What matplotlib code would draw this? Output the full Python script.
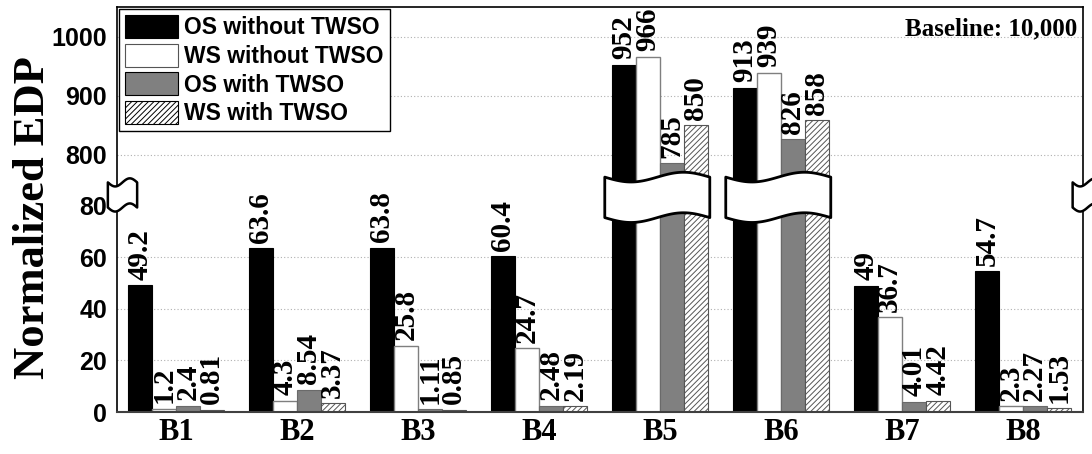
import numpy as np
import matplotlib
matplotlib.use("Agg")
import matplotlib.pyplot as plt
from matplotlib.patches import Polygon, Patch
from matplotlib.transforms import blended_transform_factory

# ---- data -------------------------------------------------------------
benchmarks = ["B1", "B2", "B3", "B4", "B5", "B6", "B7", "B8"]
series_names = ["OS without TWSO", "WS without TWSO", "OS with TWSO", "WS with TWSO"]
os_without = [49.2, 63.6, 63.8, 60.4, 952, 913, 49, 54.7]
ws_without = [1.2, 4.3, 25.8, 24.7, 966, 939, 36.7, 2.3]
os_with = [2.4, 8.54, 1.11, 2.48, 785, 826, 4.01, 2.27]
ws_with = [0.81, 3.37, 0.85, 2.19, 850, 858, 4.42, 1.53]
label_text = [
    ["49.2", "63.6", "63.8", "60.4", "952", "913", "49", "54.7"],
    ["1.2", "4.3", "25.8", "24.7", "966", "939", "36.7", "2.3"],
    ["2.4", "8.54", "1.11", "2.48", "785", "826", "4.01", "2.27"],
    ["0.81", "3.37", "0.85", "2.19", "850", "858", "4.42", "1.53"],
]
yticks = [0, 20, 40, 60, 80, 800, 900, 1000]
grid_values = [20, 40, 60, 800, 900, 1000]

# ---- broken y scale: 0..LOW_END drawn below, UP_START..top drawn above --
LOW_END, UP_START = 84.3, 732.0
K_LOW, K_UP = 2.575, 0.59
BREAK_PX = LOW_END * K_LOW


def fwd(v):
    v = np.asarray(v, dtype=float)
    return np.where(v <= LOW_END, v * K_LOW,
                    np.where(v >= UP_START, BREAK_PX + (v - UP_START) * K_UP, BREAK_PX))


def inv(p):
    p = np.asarray(p, dtype=float)
    return np.where(p <= BREAK_PX, p / K_LOW, UP_START + (p - BREAK_PX) / K_UP)


SERIF = "Liberation Serif"
SANS = "Liberation Sans"
plt.rcParams["hatch.linewidth"] = 0.7

fig = plt.figure(figsize=(10.92, 4.54), dpi=100)
ax = fig.add_axes([0.107, 0.0925, 0.885, 0.892])
ax.set_yscale("function", functions=(fwd, inv))

x = np.arange(len(benchmarks))
w = 0.198
offsets = np.array([-1.5, -0.5, 0.5, 1.5]) * w
styles = [
    dict(color="black", edgecolor="black", linewidth=0.8),
    dict(color="white", edgecolor="#7f7f7f", linewidth=1.0),
    dict(color="#808080", edgecolor="#6a6a6a", linewidth=0.8),
    dict(color="white", edgecolor="#555555", linewidth=0.8, hatch="//////"),
]
all_vals = [os_without, ws_without, os_with, ws_with]

for k, (vals, st) in enumerate(zip(all_vals, styles)):
    ax.bar(x + offsets[k], vals, w, zorder=2, **st)
    for xi, v, t in zip(x + offsets[k], vals, label_text[k]):
        ax.annotate(t, (xi, v), xytext=(0, 4), textcoords="offset points",
                    rotation=90, ha="center", va="bottom",
                    fontsize=21, fontfamily=SERIF, fontweight="bold",
                    annotation_clip=False, zorder=5)

ax.set_xlim(-0.488, 7.5)
ax.set_ylim(0, 1050)
ax.set_yticks(yticks)
ax.set_yticklabels([str(t) for t in yticks], fontfamily=SANS,
                   fontweight="bold", fontsize=18)
ax.set_xticks(x)
ax.set_xticklabels(benchmarks, fontfamily=SERIF, fontweight="bold", fontsize=22)
ax.tick_params(axis="both", length=0)
ax.tick_params(axis="y", pad=7)
ax.tick_params(axis="x", pad=4)

for g in grid_values:
    ax.axhline(g, color="#b0b0b0", linestyle=(0, (1, 2)), linewidth=0.8, zorder=1)

for side in ["left", "top", "right"]:
    ax.spines[side].set_linewidth(1.2)
    ax.spines[side].set_color("black")
ax.spines["bottom"].set_linewidth(1.5)
ax.spines["bottom"].set_color("#404040")

ax.set_ylabel("Normalized EDP", fontfamily=SERIF, fontweight="bold", fontsize=32)
ax.yaxis.set_label_coords(-0.066, 0.48)


# wavy break marks
def wavy(x0, x1, yc, h, amp, transform, lw=2.0):
    t = np.linspace(0, 1, 60)
    xs = x0 + (x1 - x0) * t
    top = yc + h / 2 - amp * np.sin(2 * np.pi * t)
    bot = yc - h / 2 - amp * np.sin(2 * np.pi * t)
    pts = np.vstack([np.column_stack([xs, top]),
                     np.column_stack([xs[::-1], bot[::-1]])])
    poly = Polygon(pts, closed=True, facecolor="white", edgecolor="black",
                   linewidth=lw, transform=transform, clip_on=False, zorder=6,
                   joinstyle="round")
    ax.add_patch(poly)


YC = 0.53
bt = blended_transform_factory(ax.transData, ax.transAxes)
for gi in [4, 5]:
    wavy(gi - 0.455, gi + 0.413, YC, 0.1, 0.012, bt)
wavy(-0.0093, 0.021, YC + 0.006, 0.062, 0.010, ax.transAxes, lw=1.8)
wavy(0.989, 1.02, YC + 0.006, 0.062, 0.010, ax.transAxes, lw=1.8)

ax.text(0.994, 0.975, "Baseline: 10,000", transform=ax.transAxes,
        ha="right", va="top", fontfamily=SERIF, fontweight="bold", fontsize=18)

handles = [Patch(facecolor=st["color"], edgecolor="black" if k != 1 else "#555555",
                 hatch=st.get("hatch"), linewidth=0.8)
           for k, st in enumerate(styles)]
leg = ax.legend(handles, series_names, loc="upper left", bbox_to_anchor=(0, 1),
                borderaxespad=0.1, prop=dict(family=SANS, weight="bold", size=16.5),
                handlelength=2.3, handleheight=1.15, labelspacing=0.2,
                handletextpad=0.3, borderpad=0.25, fancybox=False,
                framealpha=1, edgecolor="black")
leg.get_frame().set_linewidth(1.0)
leg.set_zorder(7)

fig.savefig("out.png", dpi=100)
